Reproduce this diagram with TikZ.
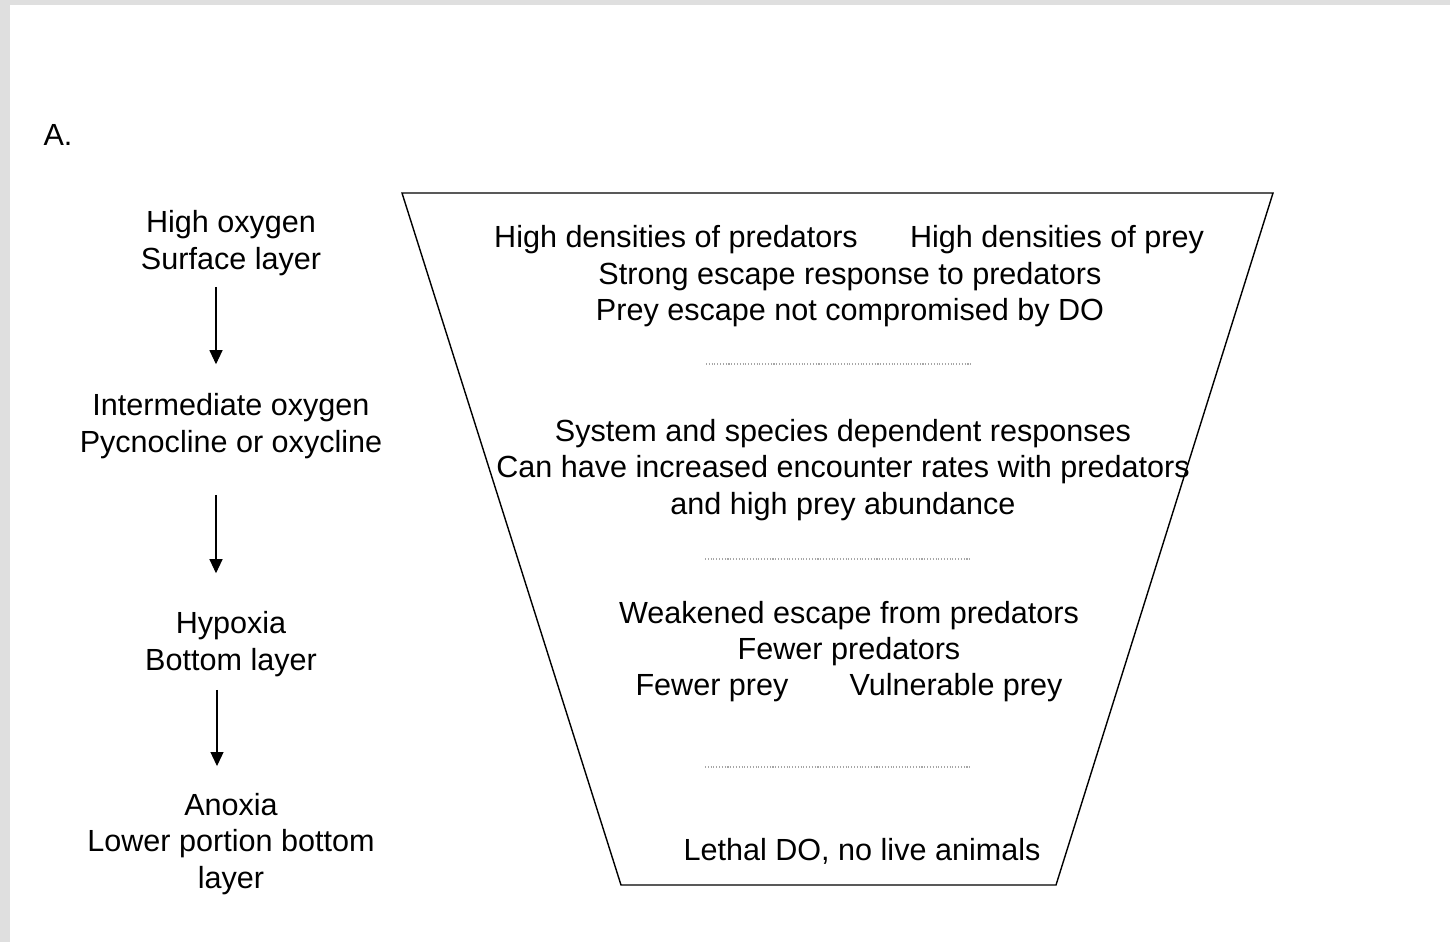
\documentclass[tikz,border=0pt]{standalone}
\usepackage{fontspec}
\setmainfont{Liberation Sans}
\usetikzlibrary{arrows.meta}

\begin{document}
\begin{tikzpicture}[x=0.02cm,y=-0.02cm,
  txt/.style={font=\fontsize{17.4}{20.7}\selectfont,align=center,inner sep=0pt},
  flow/.style={-{Triangle[length=2.8mm,width=2.6mm]},line width=0.6pt},
  layersep/.style={gray!70,densely dotted,line width=0.6pt}]
\fill[gray!25] (0,0) rectangle (1450,942);
\fill[white] (10,5) rectangle (1450,942);
\useasboundingbox (0,0) rectangle (1450,942);

\node[txt] (lbl) at (58,135) {A.};

% oxygen levels
\node[txt] (hi) at (231,243) {High oxygen\\Surface layer};
\node[txt] (mid) at (231,426) {Intermediate oxygen\\Pycnocline or oxycline};
\node[txt] (hyp) at (231,644) {Hypoxia\\Bottom layer};
\node[txt] (anox) at (231,844) {Anoxia\\Lower portion bottom\\layer};

\draw[flow,shorten <=2.2mm,shorten >=5.8mm] ([xshift=-0.3cm]hi.south) -- ([xshift=-0.3cm]mid.north);
\draw[flow,shorten <=7.2mm,shorten >=7.6mm] ([xshift=-0.3cm]mid.south) -- ([xshift=-0.3cm]hyp.north);
\draw[flow,shorten <=2.6mm,shorten >=5.4mm] ([xshift=-0.28cm]hyp.south) -- ([xshift=-0.28cm]anox.north);

% funnel
\draw[line width=0.8pt] (402,193) -- (1273,193) -- (1056,885) -- (621,885) -- cycle;

\node[txt] (pred) at (676,240) {High densities of predators};
\node[txt] (prey) at (1057,240) {High densities of prey};
\node[txt] (strong) at (850,294.5) {Strong escape response to predators\\Prey escape not compromised by DO};
\draw[layersep] (706,364) -- (972,364);

\node[txt] (sys) at (843,470) {System and species dependent responses\\Can have increased encounter rates with predators\\and high prey abundance};
\draw[layersep] (705,559) -- (972,559);

\node[txt] (weak) at (849,633.5) {Weakened escape from predators\\Fewer predators};
\node[txt] (fewprey) at (712,688) {Fewer prey};
\node[txt] (vuln) at (956,688) {Vulnerable prey};
\draw[layersep] (705,767) -- (972,767);

\node[txt] (lethal) at (862,851) {Lethal DO, no live animals};
\end{tikzpicture}
\end{document}
